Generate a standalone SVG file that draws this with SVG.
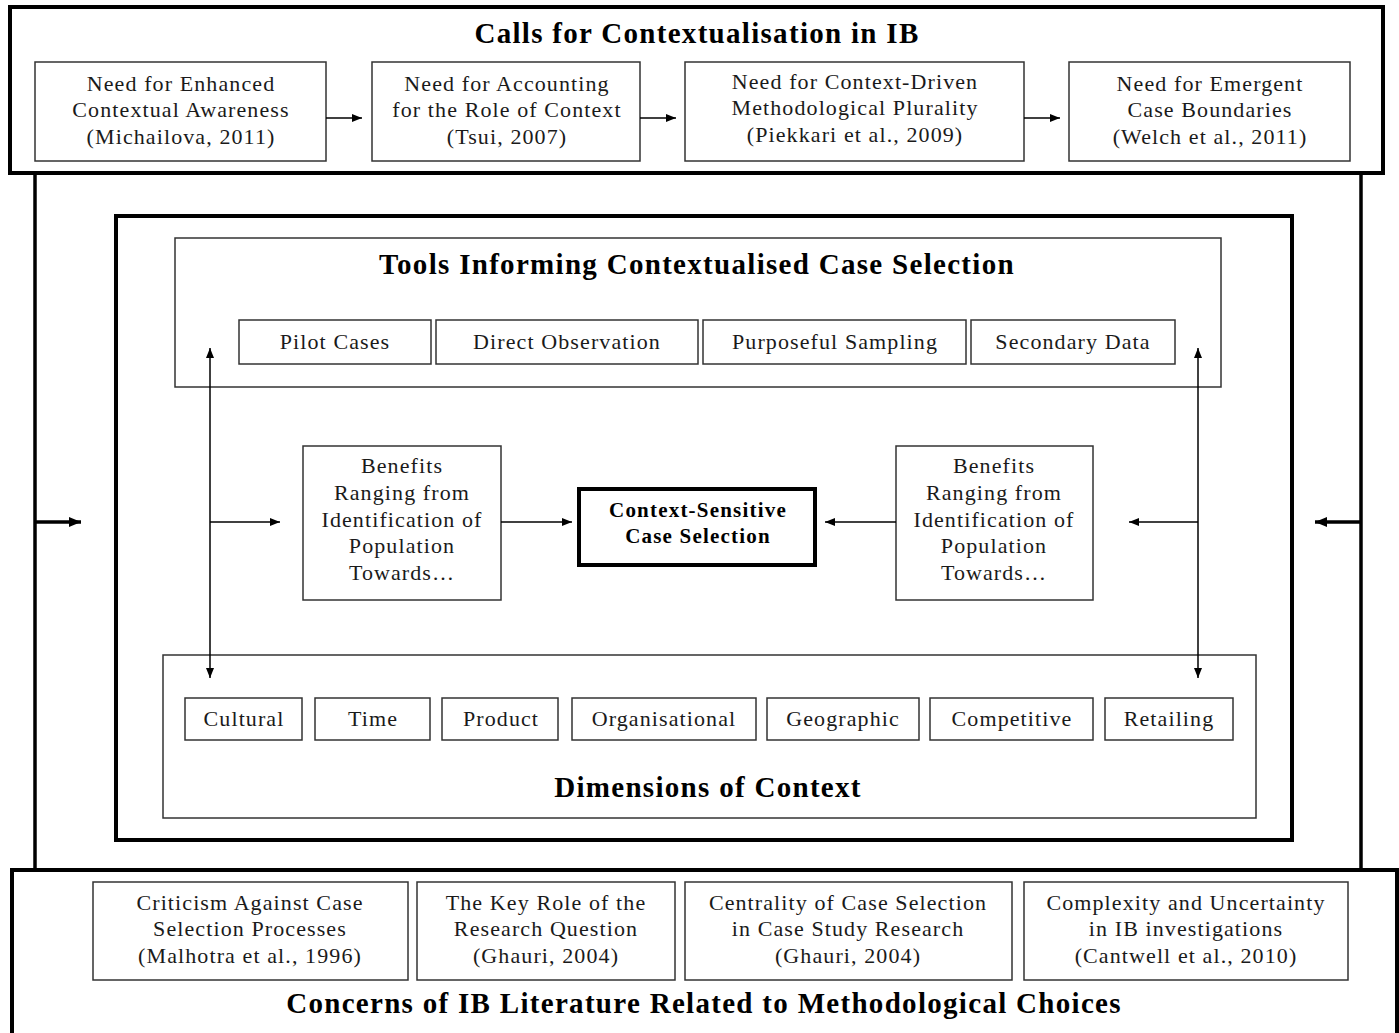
<svg xmlns="http://www.w3.org/2000/svg" width="1399" height="1033" viewBox="0 0 1399 1033">
<defs>
<marker id="ah" viewBox="0 0 10 8" refX="10" refY="4" markerWidth="10" markerHeight="8" markerUnits="userSpaceOnUse" orient="auto-start-reverse"><path d="M0,0 L10,4 L0,8 z" fill="#000"/></marker>
<marker id="ahb" viewBox="0 0 12 10" refX="12" refY="5" markerWidth="12" markerHeight="10" markerUnits="userSpaceOnUse" orient="auto-start-reverse"><path d="M0,0 L12,5 L0,10 z" fill="#000"/></marker>
<style>
.thick{fill:none;stroke:#000;stroke-width:4}
.box{fill:#fff;stroke:#333;stroke-width:1.5}
.t{font-family:"Liberation Serif","Times New Roman",serif;font-size:22px;letter-spacing:1.1px;fill:#1a1a1a;text-anchor:middle}
.h{font-family:"Liberation Serif","Times New Roman",serif;font-size:29px;letter-spacing:1.3px;font-weight:bold;fill:#000;text-anchor:middle}
.c{font-family:"Liberation Serif","Times New Roman",serif;font-size:21px;letter-spacing:1.2px;font-weight:bold;fill:#000;text-anchor:middle}
.ln{fill:none;stroke:#000;stroke-width:1.5}
.lnb{fill:none;stroke:#000;stroke-width:3.5}
</style>
</defs>
<rect width="1399" height="1033" fill="#fff"/>

<g id="frame">
<line x1="35" y1="173" x2="35" y2="870" class="lnb"/>
<line x1="1361" y1="173" x2="1361" y2="870" class="lnb"/>
</g>

<g id="calls">
<rect x="10" y="7" width="1373" height="166" class="thick"/>
<text x="697" y="43" class="h">Calls for Contextualisation in IB</text>
</g>
<g id="call1"><rect x="35" y="62" width="291" height="99" class="box"/>
<text class="t" x="181" y="91">Need for Enhanced</text><text class="t" x="181" y="117">Contextual Awareness</text><text class="t" x="181" y="144">(Michailova, 2011)</text></g>
<g id="call2"><rect x="372" y="62" width="268" height="99" class="box"/>
<text class="t" x="507" y="91">Need for Accounting</text><text class="t" x="507" y="117">for the Role of Context</text><text class="t" x="507" y="144">(Tsui, 2007)</text></g>
<g id="call3"><rect x="685" y="62" width="339" height="99" class="box"/>
<text class="t" x="855" y="89">Need for Context-Driven</text><text class="t" x="855" y="115">Methodological Plurality</text><text class="t" x="855" y="142">(Piekkari et al., 2009)</text></g>
<g id="call4"><rect x="1069" y="62" width="281" height="99" class="box"/>
<text class="t" x="1210" y="91">Need for Emergent</text><text class="t" x="1210" y="117">Case Boundaries</text><text class="t" x="1210" y="144">(Welch et al., 2011)</text></g>

<g id="inner"><rect x="116" y="216" width="1176" height="624" class="thick"/></g>

<g id="tools">
<rect x="175" y="238" width="1046" height="149" class="box"/>
<text x="697" y="274" class="h">Tools Informing Contextualised Case Selection</text>
</g>
<g id="tool1"><rect x="239" y="320" width="192" height="44" class="box"/><text class="t" x="335" y="349">Pilot Cases</text></g>
<g id="tool2"><rect x="436" y="320" width="262" height="44" class="box"/><text class="t" x="567" y="349">Direct Observation</text></g>
<g id="tool3"><rect x="703" y="320" width="263" height="44" class="box"/><text class="t" x="835" y="349">Purposeful Sampling</text></g>
<g id="tool4"><rect x="971" y="320" width="204" height="44" class="box"/><text class="t" x="1073" y="349">Secondary Data</text></g>

<g id="benefitsL"><rect x="303" y="446" width="198" height="154" class="box"/>
<text class="t" x="402" y="473">Benefits</text><text class="t" x="402" y="500">Ranging from</text><text class="t" x="402" y="527">Identification of</text><text class="t" x="402" y="553">Population</text><text class="t" x="402" y="580">Towards…</text></g>
<g id="benefitsR"><rect x="896" y="446" width="197" height="154" class="box"/>
<text class="t" x="994" y="473">Benefits</text><text class="t" x="994" y="500">Ranging from</text><text class="t" x="994" y="527">Identification of</text><text class="t" x="994" y="553">Population</text><text class="t" x="994" y="580">Towards…</text></g>
<g id="center"><rect x="579" y="489" width="236" height="76" fill="#fff" stroke="#000" stroke-width="4"/>
<text class="c" x="698" y="517">Context-Sensitive</text><text class="c" x="698" y="543">Case Selection</text></g>

<g id="dimensions">
<rect x="163" y="655" width="1093" height="163" class="box"/>
<text x="708" y="797" class="h">Dimensions of Context</text>
</g>
<g id="dim1"><rect x="185" y="698" width="117" height="42" class="box"/><text class="t" x="244" y="726">Cultural</text></g>
<g id="dim2"><rect x="315" y="698" width="115" height="42" class="box"/><text class="t" x="373" y="726">Time</text></g>
<g id="dim3"><rect x="442" y="698" width="116" height="42" class="box"/><text class="t" x="501" y="726">Product</text></g>
<g id="dim4"><rect x="572" y="698" width="184" height="42" class="box"/><text class="t" x="664" y="726">Organisational</text></g>
<g id="dim5"><rect x="767" y="698" width="152" height="42" class="box"/><text class="t" x="843" y="726">Geographic</text></g>
<g id="dim6"><rect x="930" y="698" width="163" height="42" class="box"/><text class="t" x="1012" y="726">Competitive</text></g>
<g id="dim7"><rect x="1105" y="698" width="128" height="42" class="box"/><text class="t" x="1169" y="726">Retailing</text></g>

<g id="concerns">
<path d="M12,1040 V870 H1397 V1040" class="thick"/>
<text x="704" y="1013" class="h">Concerns of IB Literature Related to Methodological Choices</text>
</g>
<g id="con1"><rect x="93" y="882" width="315" height="98" class="box"/>
<text class="t" x="250" y="910">Criticism Against Case</text><text class="t" x="250" y="936">Selection Processes</text><text class="t" x="250" y="963">(Malhotra et al., 1996)</text></g>
<g id="con2"><rect x="417" y="882" width="258" height="98" class="box"/>
<text class="t" x="546" y="910">The Key Role of the</text><text class="t" x="546" y="936">Research Question</text><text class="t" x="546" y="963">(Ghauri, 2004)</text></g>
<g id="con3"><rect x="685" y="882" width="327" height="98" class="box"/>
<text class="t" x="848" y="910">Centrality of Case Selection</text><text class="t" x="848" y="936">in Case Study Research</text><text class="t" x="848" y="963">(Ghauri, 2004)</text></g>
<g id="con4"><rect x="1024" y="882" width="324" height="98" class="box"/>
<text class="t" x="1186" y="910">Complexity and Uncertainty</text><text class="t" x="1186" y="936">in IB investigations</text><text class="t" x="1186" y="963">(Cantwell et al., 2010)</text></g>

<g id="connectors">
<line x1="326" y1="118" x2="362" y2="118" class="ln" marker-end="url(#ah)"/>
<line x1="640" y1="118" x2="676" y2="118" class="ln" marker-end="url(#ah)"/>
<line x1="1024" y1="118" x2="1060" y2="118" class="ln" marker-end="url(#ah)"/>
<line x1="35" y1="522" x2="81" y2="522" stroke="#000" stroke-width="3.5" marker-end="url(#ahb)"/>
<line x1="1361" y1="522" x2="1315" y2="522" stroke="#000" stroke-width="3.5" marker-end="url(#ahb)"/>
<line x1="210" y1="348" x2="210" y2="678" class="ln" marker-start="url(#ah)" marker-end="url(#ah)"/>
<line x1="1198" y1="348" x2="1198" y2="678" class="ln" marker-start="url(#ah)" marker-end="url(#ah)"/>
<line x1="210" y1="522" x2="280" y2="522" class="ln" marker-end="url(#ah)"/>
<line x1="1198" y1="522" x2="1129" y2="522" class="ln" marker-end="url(#ah)"/>
<line x1="501" y1="522" x2="572" y2="522" class="ln" marker-end="url(#ah)"/>
<line x1="896" y1="522" x2="825" y2="522" class="ln" marker-end="url(#ah)"/>
</g>
</svg>
